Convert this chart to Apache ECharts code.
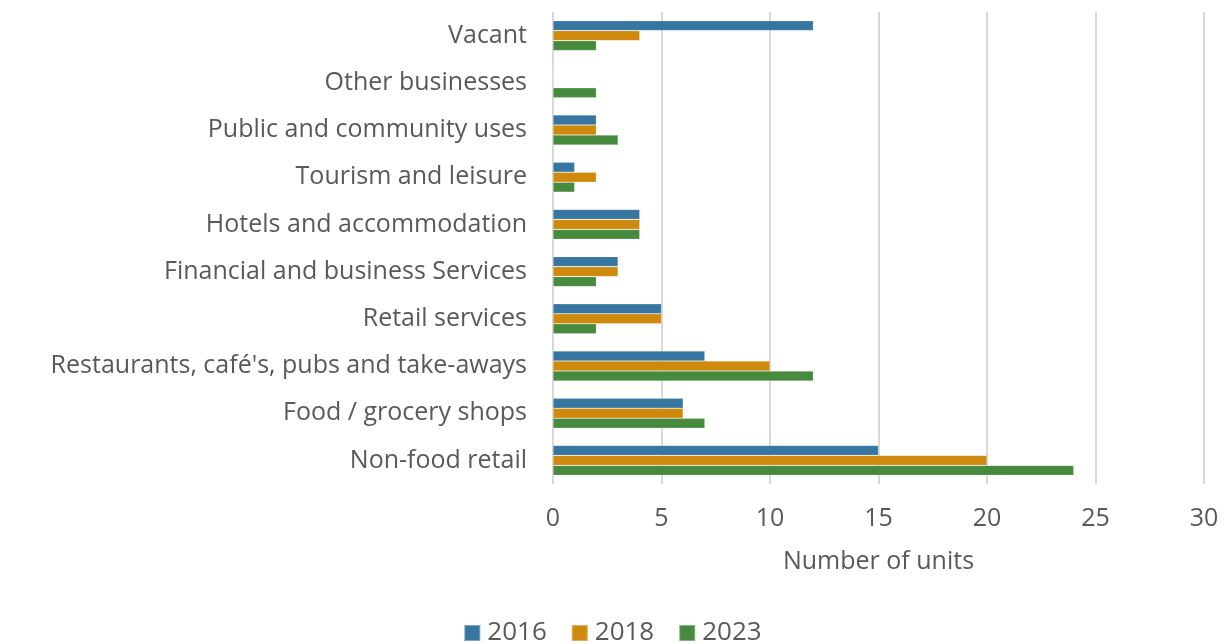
<!DOCTYPE html>
<html>
<head>
<meta charset="utf-8">
<script src="https://cdn.jsdelivr.net/npm/echarts@6/dist/echarts.min.js"></script>
<style>
  html, body { margin: 0; padding: 0; background: #fff; }
  #chart { width: 1225px; height: 644px; }
</style>
</head>
<body>
<div id="chart"></div>
<script>
// Use categories, listed top to bottom
const categories = [
  'Vacant',
  'Other businesses',
  'Public and community uses',
  'Tourism and leisure',
  'Hotels and accommodation',
  'Financial and business Services',
  'Retail services',
  "Restaurants, café's, pubs and take-aways",
  'Food / grocery shops',
  'Non-food retail'
];
const units2016 = [12, 0, 2, 1, 4, 3, 5, 7, 6, 15];
const units2018 = [4, 0, 2, 2, 4, 3, 5, 10, 6, 20];
const units2023 = [2, 2, 3, 1, 4, 2, 2, 12, 7, 24];
const xTicks = [0, 5, 10, 15, 20, 25, 30];

const FONT = 'Open Sans';
const TEXT = '#595959';
const colors = ['#3776a1', '#cf890c', '#468a3d'];

function barSeries(name, data, color) {
  return {
    name: name,
    type: 'bar',
    data: data,
    barWidth: 10,
    barGap: '0%',
    itemStyle: { color: color, borderColor: 'rgba(255,255,255,0.35)', borderWidth: 0.6 },
    emphasis: { disabled: true }
  };
}

const chart = echarts.init(document.getElementById('chart'), null, { renderer: 'canvas' });
chart.setOption({
  animation: false,
  textStyle: { fontFamily: FONT, color: TEXT },
  grid: { left: 553, right: 21, top: 12, bottom: 160, containLabel: false },
  xAxis: {
    type: 'value',
    min: xTicks[0],
    max: xTicks[xTicks.length - 1],
    interval: 5,
    name: 'Number of units',
    nameLocation: 'middle',
    nameGap: 65,
    nameTextStyle: { fontFamily: FONT, fontSize: 25, color: TEXT },
    axisLine: { show: false },
    axisTick: { show: false },
    axisLabel: { fontFamily: FONT, fontSize: 25, color: TEXT, margin: 22 },
    splitLine: { show: true, lineStyle: { color: '#d9d9d9', width: 2 } }
  },
  yAxis: {
    type: 'category',
    data: categories,
    inverse: true,
    axisLine: { show: false },
    axisTick: { show: false },
    axisLabel: { fontFamily: FONT, fontSize: 25, color: TEXT, margin: 26 },
    splitLine: { show: false }
  },
  legend: {
    data: ['2016', '2018', '2023'],
    bottom: -7,
    left: 'center',
    itemWidth: 16,
    itemHeight: 16,
    itemGap: 24,
    icon: 'rect',
    textStyle: { fontFamily: FONT, fontSize: 26, color: TEXT, padding: [0, 0, 0, 2] }
  },
  series: [
    barSeries('2016', units2016, colors[0]),
    barSeries('2018', units2018, colors[1]),
    barSeries('2023', units2023, colors[2])
  ]
});
</script>
</body>
</html>
